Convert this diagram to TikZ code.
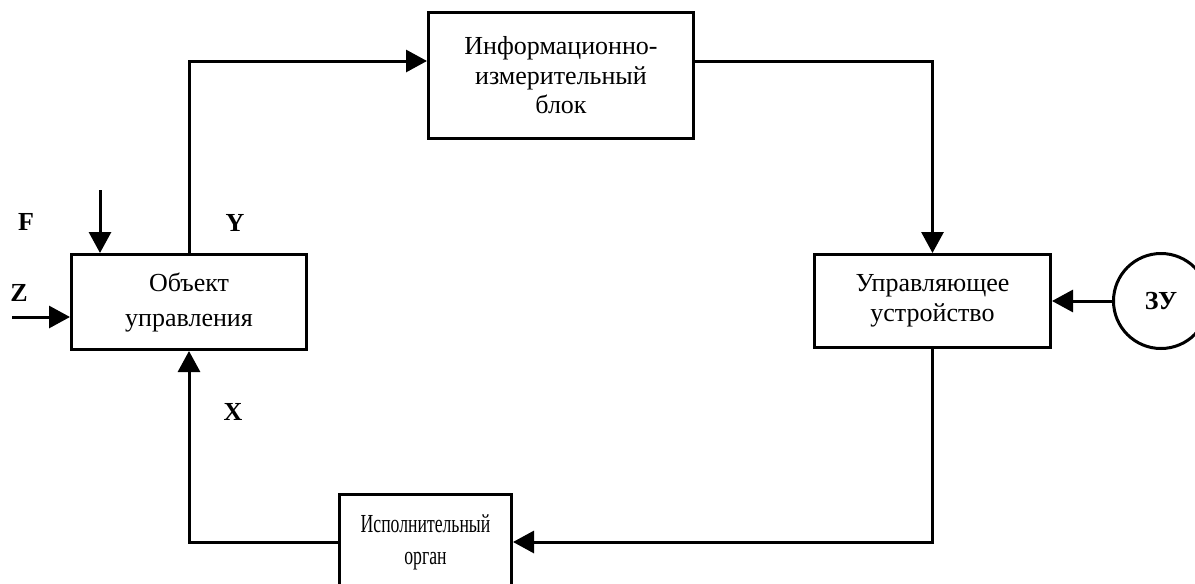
\documentclass[tikz,border=0pt]{standalone}
\usepackage{fontspec}
\setmainfont{Liberation Serif}
\newfontfamily\condfont[FakeStretch=0.68]{Liberation Serif}
\usetikzlibrary{arrows.meta}
\begin{document}
\begin{tikzpicture}[x=1pt,y=-1pt,
  box/.style={draw, line width=3pt, inner sep=0pt, align=center},
  lbl/.style={font=\bfseries\fontsize{26}{30}\selectfont, inner sep=0pt},
  arr/.style={line width=3pt, -{Triangle[length=21pt,width=22pt]}}]
\useasboundingbox (0,0) rectangle (1195,584);
\clip (0,0) rectangle (1195,584);
\node[box, minimum width=235pt, minimum height=95pt, font=\fontsize{26}{35}\selectfont] (obj) at (189,302) {Объект\\управления};
\node[box, minimum width=265pt, minimum height=126pt, font=\fontsize{26}{29.5}\selectfont] (info) at (561,75.5) {Информационно-\\измерительный\\блок};
\node[box, minimum width=236pt, minimum height=93pt, font=\fontsize{26}{30}\selectfont] (uu) at (932.5,301) {Управляющее\\устройство};
\node[box, minimum width=172pt, minimum height=95pt, font=\condfont\fontsize{26}{32}\selectfont] (exec) at (425.5,542) {Исполнительный\\орган};
\node[circle, draw, line width=3pt, minimum size=95pt, inner sep=0pt, lbl] (zu) at (1161,301) {ЗУ};
\draw[arr] (obj.north) |- ([yshift=14.5pt]info.west);
\draw[arr] ([yshift=14.5pt]info.east) -| (uu.north);
\draw[arr] (uu.south) |- (exec.east);
\draw[arr] (exec.west) -| (obj.south);
\draw[arr] (zu.west) -- (uu.east);
\coordinate (fs) at (100,190);
\draw[arr] (fs) -- (fs |- obj.north);
\coordinate (zs) at (12,317);
\draw[arr] (zs) -- (zs -| obj.west);
\node[lbl] (lF) at (26,222) {F};
\node[lbl] (lY) at (235,223) {Y};
\node[lbl] (lZ) at (19,293) {Z};
\node[lbl] (lX) at (233,412) {X};
\end{tikzpicture}
\end{document}
